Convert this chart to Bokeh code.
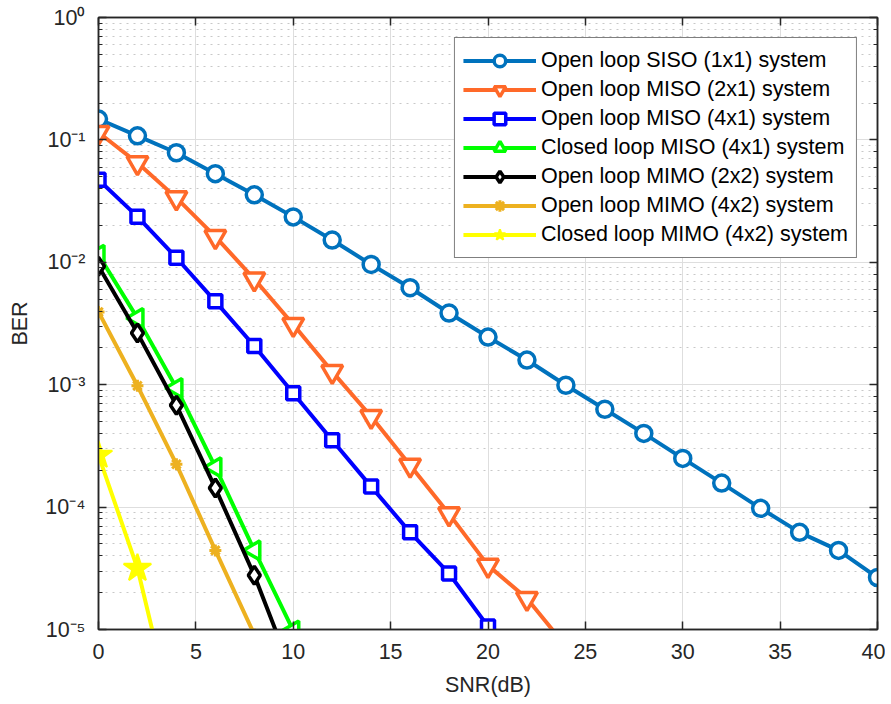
import numpy as np
from bokeh.plotting import figure
from bokeh.models import (Range1d, LinearAxis, LogAxis, CustomJSTickFormatter,
                          SingleIntervalTicker, LogTicker)
from bokeh.embed import file_html
from bokeh.resources import INLINE

# ---------------- data ----------------
snr = [0, 2, 4, 6, 8, 10, 12, 14, 16, 18, 20, 22, 24, 26, 28, 30, 32, 34, 36, 38, 40]
ber_siso_ol = [0.148, 0.108, 0.0785, 0.053, 0.0356, 0.0235, 0.0152, 0.0096, 0.0062,
               0.00385, 0.00245, 0.00159, 0.00099, 0.00063, 0.0004, 0.00025,
               0.000157, 0.0000977, 0.0000622, 0.0000443, 0.0000266]
ber_miso21_ol = [0.115, 0.065, 0.0336, 0.0162, 0.0073, 0.0031, 0.00128, 0.00055,
                 0.00022, 0.000088, 0.0000334, 0.0000179, 0.0000073]
ber_miso41_ol = [0.0472, 0.0236, 0.0109, 0.0048, 0.00207, 0.00085, 0.000352,
                 0.000147, 0.0000622, 0.0000287, 0.0000106]
ber_miso41_cl = [0.0115, 0.0035, 0.00094, 0.000212, 0.0000443, 0.0000098]
ber_mimo22_ol = [0.0093, 0.00264, 0.00068, 0.000143, 0.0000277, 0.0000042]
ber_mimo42_ol = [0.00393, 0.00098, 0.000224, 0.0000443, 0.0000091]
ber_mimo42_cl = [0.000265, 0.0000316, 0.0000015]

labels = ["Open loop SISO (1x1) system", "Open loop MISO (2x1) system",
          "Open loop MISO (4x1) system", "Closed loop MISO (4x1) system",
          "Open loop MIMO (2x2) system", "Open loop MIMO (4x2) system",
          "Closed loop MIMO (4x2) system"]
x_ticks_interval = 5

FONT = "Liberation Sans"
FS = "21.5px"
TXT = "#262626"

p = figure(width=885, height=704, y_axis_type="log",
           x_range=Range1d(0, 40), y_range=Range1d(1e-5, 1),
           output_backend="svg", toolbar_location=None,
           min_border_left=98, min_border_right=8, min_border_top=17,
           min_border_bottom=75)

p.background_fill_color = "white"
p.outline_line_color = TXT
p.outline_line_width = 1.5

# grids
p.xgrid.grid_line_color = "#dedede"
p.ygrid.grid_line_color = "#dedede"
p.ygrid.minor_grid_line_color = "#c8c8c8"
p.ygrid.minor_grid_line_dash = "2 5"

xt = SingleIntervalTicker(interval=x_ticks_interval, num_minor_ticks=0)
p.xaxis.ticker = xt
p.xgrid.ticker = xt

sup = CustomJSTickFormatter(code="""
const e = Math.round(Math.log10(tick));
const m = {'-':'\u207b','0':'\u2070','1':'\u00b9','2':'\u00b2','3':'\u00b3','4':'\u2074','5':'\u2075','6':'\u2076'};
return '10' + String(e).split('').map(c => m[c]).join('');
""")
p.yaxis.formatter = sup

for ax in (p.xaxis[0], p.yaxis[0]):
    ax.axis_line_color = TXT
    ax.axis_line_width = 1.5
    ax.major_tick_line_color = TXT
    ax.major_tick_line_width = 1.5
    ax.minor_tick_line_color = TXT
    ax.major_tick_in = 8
    ax.major_tick_out = 0
    ax.minor_tick_in = 4
    ax.minor_tick_out = 0
    ax.major_label_text_font = FONT
    ax.major_label_text_font_size = FS
    ax.major_label_text_color = TXT
    ax.axis_label_text_font = FONT
    ax.axis_label_text_font_size = FS
    ax.axis_label_text_font_style = "normal"
    ax.axis_label_text_color = TXT

p.xaxis.minor_tick_line_color = None
p.xaxis.axis_label = "SNR(dB)"
p.xaxis.major_label_standoff = 14
p.xaxis.axis_label_standoff = 11
p.yaxis.axis_label = "BER"
p.yaxis.major_label_standoff = 13
p.yaxis.axis_label_standoff = 10

blank = CustomJSTickFormatter(code="return '';")
top = LinearAxis(ticker=xt, formatter=blank)
right = LogAxis(ticker=LogTicker(), formatter=blank)
for ax in (top, right):
    ax.axis_line_color = TXT
    ax.axis_line_width = 1.5
    ax.major_tick_line_color = TXT
    ax.major_tick_line_width = 1.5
    ax.minor_tick_line_color = TXT
    ax.major_tick_in = 8
    ax.major_tick_out = 0
    ax.minor_tick_in = 4
    ax.minor_tick_out = 0
    ax.major_label_standoff = 0
    ax.major_label_text_font_size = "0px"
top.minor_tick_line_color = None
p.add_layout(top, "above")
p.add_layout(right, "right")

series = [
    (snr, ber_siso_ol, "#0072BD", "circle", 16, "white", 0.0, 3.5, labels[0]),
    (snr, ber_miso21_ol, "#FF6929", "inverted_triangle", 21, "white", 0.0, 3.5, labels[1]),
    (snr, ber_miso41_ol, "#0000FF", "square", 13, "white", 0.0, 3.5, labels[2]),
    (snr, ber_miso41_cl, "#00FF00", "triangle", 19, "white", np.pi / 2, 3.5, labels[3]),
    (snr, ber_mimo22_ol, "#000000", "diamond", 18, "white", 0.0, 3.5, labels[4]),
    (snr, ber_mimo42_ol, "#EDB120", "asterisk", 12, "#EDB120", 0.0, 3.0, labels[5]),
    (snr, ber_mimo42_cl, "#FFFF00", "star", 29, "#FFFF00", 0.0, 2.0, labels[6]),
]

for xs, ys, col, mk, sz, fill, ang, lw, lab in series:
    xs = xs[:len(ys)]
    p.line(xs, ys, line_color=col, line_width=4, legend_label=lab)
    p.scatter(xs, ys, marker=mk, size=sz, line_color=col, fill_color=fill,
              line_width=lw, angle=ang, legend_label=lab)

lg = p.legend[0]
lg.location = "top_right"
lg.margin = 20
lg.padding = 8
lg.spacing = 0
lg.glyph_width = 73
lg.glyph_height = 29
lg.label_height = 29
lg.label_standoff = 5
lg.label_text_font = FONT
lg.label_text_font_size = FS
lg.label_text_color = "black"
lg.border_line_color = "black"
lg.border_line_width = 1.2
lg.background_fill_color = "white"
lg.background_fill_alpha = 1.0

open("out.html", "w").write(file_html(p, INLINE))
